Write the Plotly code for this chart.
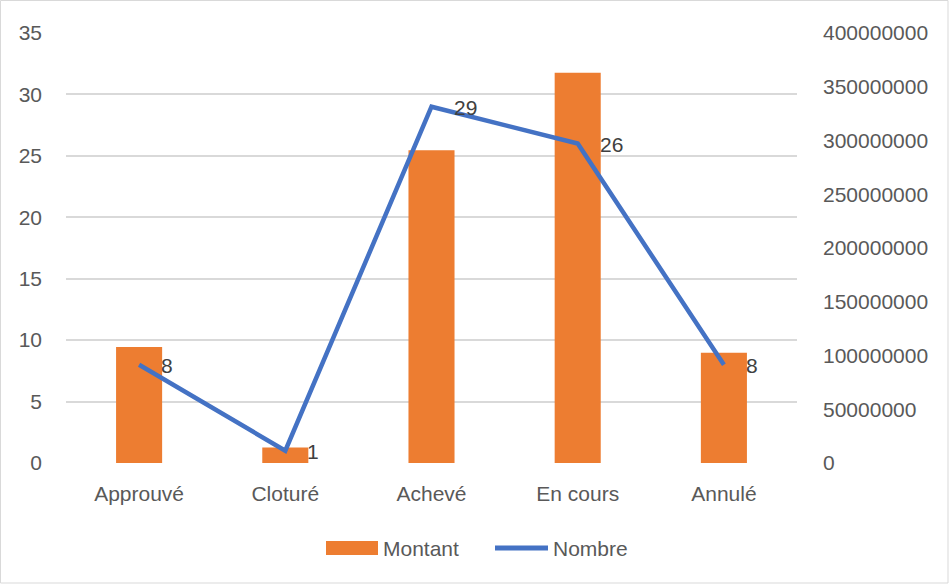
import plotly.graph_objects as go

categories = ["Approuvé", "Cloturé", "Achevé", "En cours", "Annulé"]
montant = [108000000, 14500000, 291000000, 363000000, 102500000]
nombre = [8, 1, 29, 26, 8]
left_ticks = [0, 5, 10, 15, 20, 25, 30, 35]
right_ticks = [0, 50000000, 100000000, 150000000, 200000000, 250000000, 300000000, 350000000, 400000000]

FONT = "Liberation Sans, Arial, sans-serif"
GREY = "#595959"
FS = 21

L, R, T, B = 66, 152, 33, 121
W, H = 949, 584
PW, PH = W - L - R, H - T - B


def px(x):
    return (x - L) / PW


def py(y):
    return (H - B - y) / PH


fig = go.Figure()
fig.add_trace(go.Bar(
    x=categories, y=montant, name="Montant", yaxis="y",
    marker=dict(color="#ED7D31", line=dict(width=0)),
    showlegend=False,
))
fig.add_trace(go.Scatter(
    x=categories, y=nombre, name="Nombre", yaxis="y2",
    mode="lines",
    line=dict(color="#4472C4", width=4.5),
    showlegend=False,
))

annotations = []
for c, v in zip(categories, nombre):
    annotations.append(dict(x=c, y=v, xref="x", yref="y2", text=str(v), showarrow=False,
                            xanchor="left", yanchor="middle", xshift=20, yshift=-1,
                            font=dict(size=FS, color="#404040", family=FONT)))

# manual legend
annotations.append(dict(x=px(381), y=py(548), xref="paper", yref="paper", text="Montant",
                        showarrow=False, xanchor="left", yanchor="middle",
                        font=dict(size=FS, color=GREY, family=FONT)))
annotations.append(dict(x=px(551), y=py(548), xref="paper", yref="paper", text="Nombre",
                        showarrow=False, xanchor="left", yanchor="middle",
                        font=dict(size=FS, color=GREY, family=FONT)))

shapes = [
    dict(type="rect", xref="paper", yref="paper",
         x0=px(0.5), x1=px(948), y0=py(583), y1=py(0.5),
         line=dict(color="#D9D9D9", width=1), fillcolor="rgba(0,0,0,0)", layer="below"),
    dict(type="rect", xref="paper", yref="paper",
         x0=px(326), x1=px(378), y0=py(555), y1=py(541),
         line=dict(width=0), fillcolor="#ED7D31"),
    dict(type="line", xref="paper", yref="paper",
         x0=px(495), x1=px(548), y0=py(548), y1=py(548),
         line=dict(color="#4472C4", width=5)),
]

fig.update_layout(
    width=W, height=H,
    margin=dict(l=L, r=R, t=T, b=B, autoexpand=False),
    paper_bgcolor="white", plot_bgcolor="white",
    font=dict(family=FONT, size=FS, color=GREY),
    bargap=0.685,
    showlegend=False,
    xaxis=dict(showgrid=False, showline=False, zeroline=False,
               ticks="", tickfont=dict(size=FS, color=GREY), ticklabelstandoff=16),
    yaxis=dict(range=[0, 400000000], tickvals=right_ticks, side="right",
               showgrid=False, zeroline=False, showline=False, ticks="",
               tickformat="d", ticklabelstandoff=25, tickfont=dict(size=FS, color=GREY)),
    yaxis2=dict(range=[0, 35], tickvals=left_ticks, overlaying="y", side="left",
                showgrid=True, gridcolor="#D9D9D9", gridwidth=1.5,
                zeroline=False, showline=False, ticks="",
                ticklabelstandoff=23, tickfont=dict(size=FS, color=GREY)),
    annotations=annotations,
    shapes=shapes,
)

fig.write_html("out.html", config={"displayModeBar": False},
               post_script="document.body.style.margin='0';document.body.style.overflow='hidden';")
